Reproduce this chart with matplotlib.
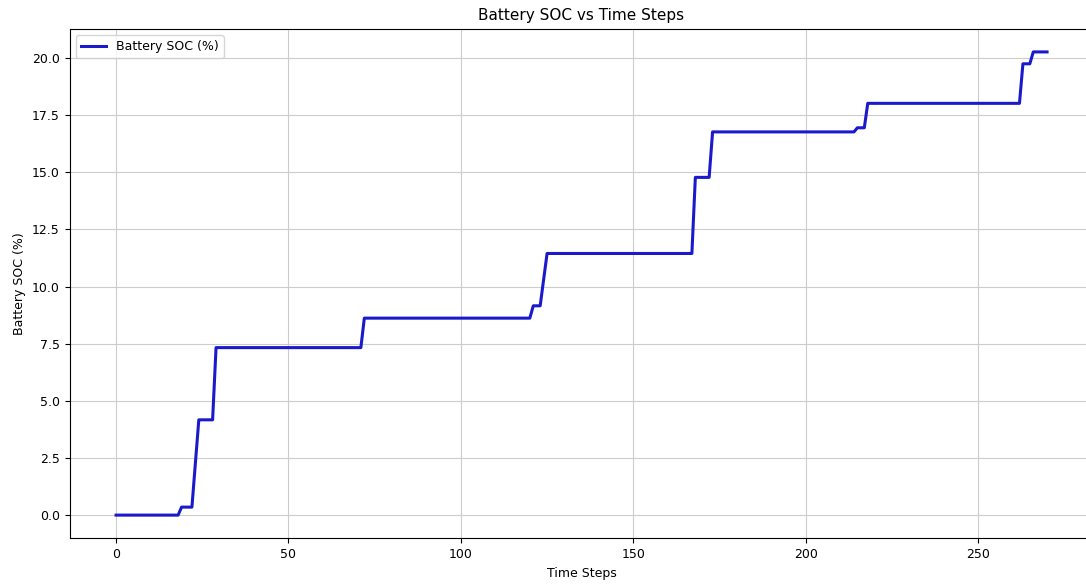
import matplotlib
matplotlib.use("Agg")
import matplotlib.pyplot as plt

# breakpoints of the state-of-charge curve (time step, SOC %)
time_steps = [0, 18, 19, 22, 24, 28, 29, 71, 72, 120, 121, 123, 125,
              167, 168, 172, 173, 214, 215, 217, 218, 262, 263, 265, 266, 270]
soc = [0.0, 0.0, 0.35, 0.35, 4.17, 4.17, 7.33, 7.33, 8.62, 8.62, 9.16, 9.16, 11.45,
       11.45, 14.78, 14.78, 16.77, 16.77, 16.95, 16.95, 18.02, 18.02, 19.75, 19.75,
       20.27, 20.27]

fig = plt.figure(figsize=(10.86, 5.87), dpi=100)
ax = fig.add_axes([0.064, 0.083, 0.943, 0.868])

ax.plot(time_steps, soc, color="#1a1acc", linewidth=2.2, label="Battery SOC (%)")
ax.set_title("Battery SOC vs Time Steps", fontsize=11)
ax.set_xlabel("Time Steps", fontsize=9)
ax.set_ylabel("Battery SOC (%)", fontsize=9)
ax.tick_params(labelsize=9)
ax.grid(True, color="#cccccc")
ax.legend(loc="upper left", fontsize=9)

fig.savefig("out.png", dpi=100)
